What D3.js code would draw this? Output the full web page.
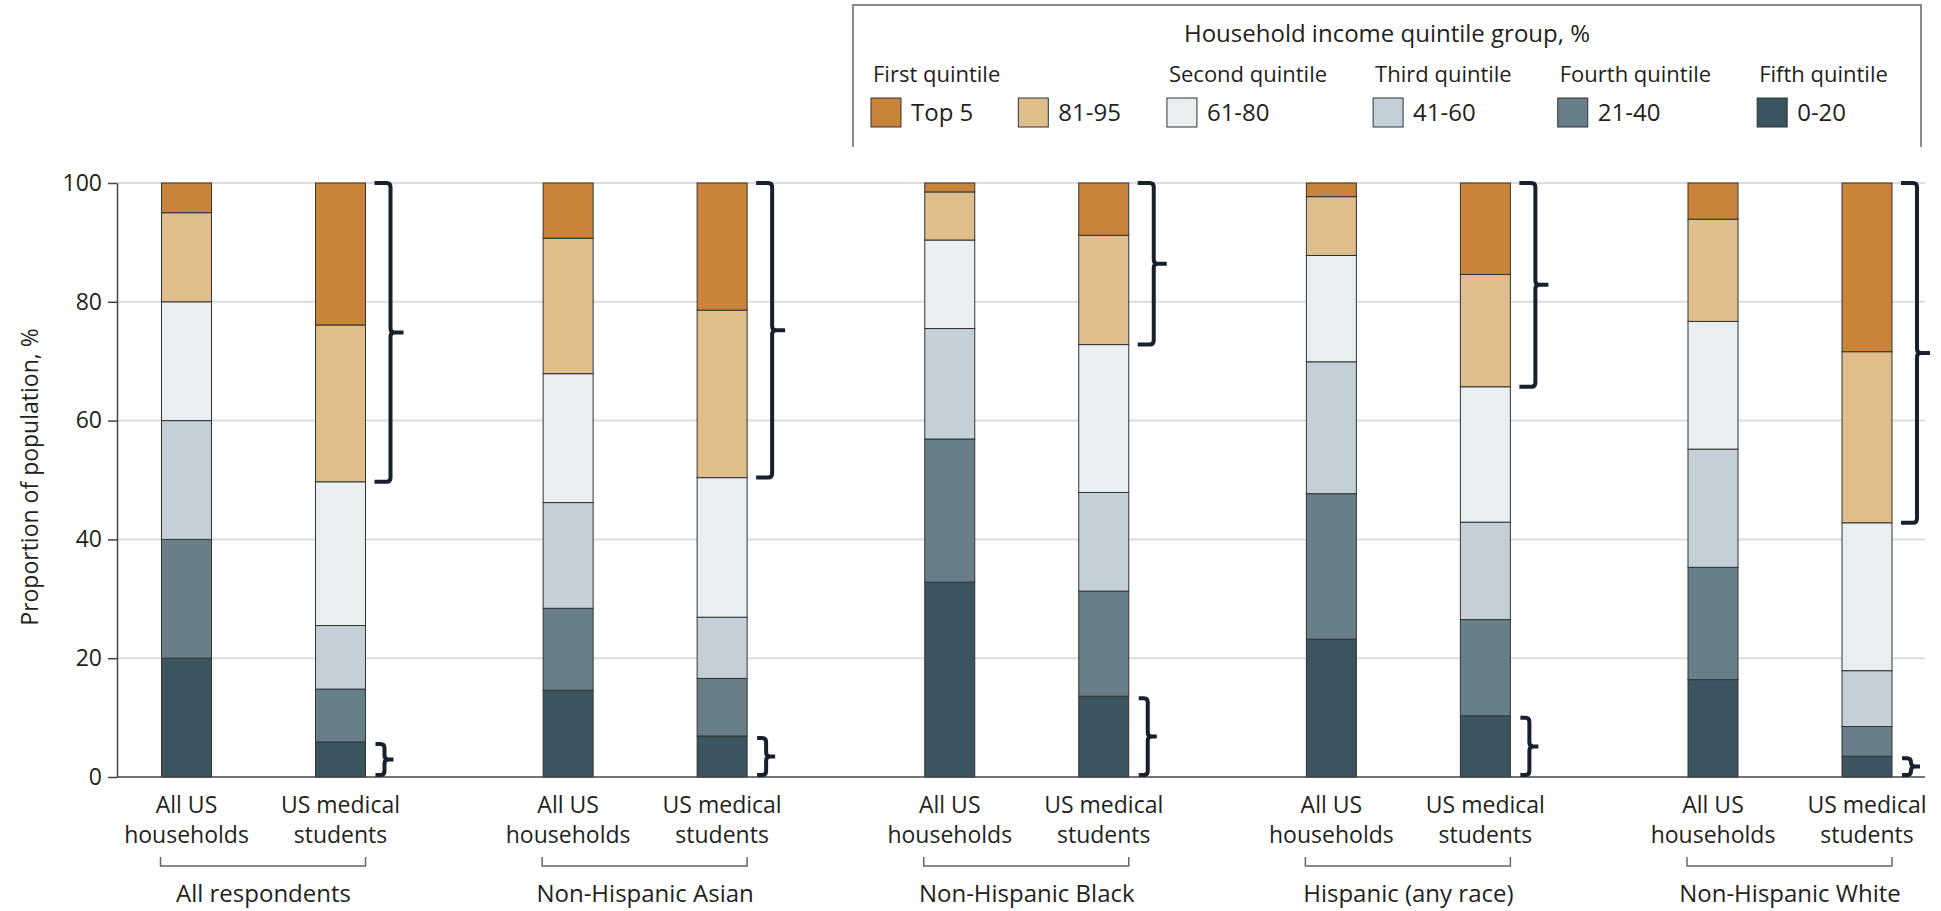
<!DOCTYPE html>
<html lang="en">
<head>
<meta charset="UTF-8" />
<title>Household income quintile group of US medical students</title>
<script src="https://cdn.jsdelivr.net/npm/d3@7"></script>
<style>
  body { margin: 0; background: #fff; }
  text { font-family: "Open Sans", "Noto Sans", sans-serif; fill: #231f20; }
</style>
</head>
<body>
<svg id="vis" width="1941" height="911"></svg>
<script>
// groups and the two bars in each group
var groups = ["All respondents", "Non-Hispanic Asian", "Non-Hispanic Black", "Hispanic (any race)", "Non-Hispanic White"];
var populations = ["All US households", "US medical students"];
var populationLines = [["All US", "households"], ["US medical", "students"]];

// quintile groups, bottom of the stack first
var quintiles = ["0-20", "21-40", "41-60", "61-80", "81-95", "Top 5"];
var quintileColors = ["#3a5560", "#687f8a", "#c3d0d8", "#e9eef1", "#dfbe8c", "#c8843a"];

// % per bar, in order: group 1 households, group 1 students, group 2 households ...
var q0_20  = [20, 5.9, 14.6, 6.9, 32.8, 13.6, 23.2, 10.3, 16.4, 3.5];
var q21_40 = [20, 8.9, 13.8, 9.7, 24.1, 17.7, 24.5, 16.2, 18.9, 5.0];
var q41_60 = [20, 10.7, 17.8, 10.3, 18.6, 16.6, 22.2, 16.4, 19.9, 9.4];
var q61_80 = [20, 24.2, 21.7, 23.5, 14.9, 24.9, 17.9, 22.8, 21.5, 24.9];
var q81_95 = [15, 26.4, 22.8, 28.2, 8.1, 18.4, 9.9, 18.9, 17.2, 28.8];
var qTop5  = [5, 23.9, 9.3, 21.4, 1.5, 8.8, 2.3, 15.4, 6.1, 28.4];

var yTicks = [0, 20, 40, 60, 80, 100];

// legend
var legendTitle = "Household income quintile group, %";
var legendHeaders = ["First quintile", "Second quintile", "Third quintile", "Fourth quintile", "Fifth quintile"];
var legendItems = ["Top 5", "81-95", "61-80", "41-60", "21-40", "0-20"];
var legendSection = [0, 0, 1, 2, 3, 4];

// build table rows
var rows = [];
groups.forEach(function (g, gi) {
  populations.forEach(function (p, pi) {
    var i = gi * 2 + pi;
    rows.push({
      group: g, pop: p,
      "0-20": q0_20[i], "21-40": q21_40[i], "41-60": q41_60[i],
      "61-80": q61_80[i], "81-95": q81_95[i], "Top 5": qTop5[i]
    });
  });
});

var svg = d3.select("#vis");

var y = d3.scaleLinear().domain([0, 100]).range([777, 183]);
var xGroup = d3.scalePoint().domain(groups).range([263.5, 1790]);
var xPop = d3.scalePoint().domain(populations).range([-77, 77]);
var barW = 50;
var color = d3.scaleOrdinal().domain(quintiles).range(quintileColors);
var axisX = 117, plotRight = 1925;

function barLeft(d) { return xGroup(d.group) + xPop(d.pop) - barW / 2; }

// gridlines
svg.append("g").selectAll("line").data(yTicks.filter(function (t) { return t > 0; }))
  .join("line")
  .attr("x1", axisX).attr("x2", plotRight)
  .attr("y1", function (d) { return y(d); }).attr("y2", function (d) { return y(d); })
  .attr("stroke", "#dcdcdc").attr("stroke-width", 2);

// y axis
var gy = svg.append("g").attr("transform", "translate(" + axisX + ",0)")
  .call(d3.axisLeft(y).tickValues(yTicks).tickSize(9).tickSizeOuter(0).tickPadding(6));
gy.select(".domain").attr("stroke", "#444").attr("stroke-width", 1.5);
gy.selectAll(".tick line").attr("stroke", "#444").attr("stroke-width", 1.5);
gy.selectAll(".tick text").style("font-size", "23px").style("font-family", "'Open Sans'").attr("fill", "#231f20");

svg.append("text")
  .attr("transform", "translate(38,477) rotate(-90)")
  .attr("text-anchor", "middle")
  .style("font-size", "23px")
  .text("Proportion of population, %");

// stacked bars
var stacked = d3.stack().keys(quintiles)(rows);
var gBars = svg.append("g");
stacked.forEach(function (layer) {
  gBars.append("g").selectAll("rect").data(layer).join("rect")
    .attr("x", function (d) { return barLeft(d.data); })
    .attr("width", barW)
    .attr("y", function (d) { return y(d[1]); })
    .attr("height", function (d) { return y(d[0]) - y(d[1]); })
    .attr("fill", color(layer.key))
    .attr("stroke", "#333").attr("stroke-width", 1);
});

// x axis baseline
svg.append("line").attr("x1", axisX).attr("x2", plotRight)
  .attr("y1", y(0)).attr("y2", y(0))
  .attr("stroke", "#444").attr("stroke-width", 1.5);

// braces next to the medical student bars
function bracePath(x0, yTop, yBot, hook, tip) {
  var xv = x0 + hook, ym = (yTop + yBot) / 2, r = 4;
  return "M" + x0 + "," + yTop + "H" + (xv - r) + "Q" + xv + "," + yTop + " " + xv + "," + (yTop + r) +
    "V" + (ym - r) + "Q" + xv + "," + ym + " " + (xv + r) + "," + ym + "H" + (xv + tip) +
    "M" + (xv + r) + "," + ym + "Q" + xv + "," + ym + " " + xv + "," + (ym + r) +
    "V" + (yBot - r) + "Q" + xv + "," + yBot + " " + (xv - r) + "," + yBot + "H" + x0;
}
var students = rows.filter(function (d) { return d.pop === populations[1]; });
var gBrace = svg.append("g").attr("fill", "none").attr("stroke", "#16202e").attr("stroke-width", 4);
gBrace.selectAll("path.top").data(students).join("path").attr("class", "top")
  .attr("d", function (d) {
    var lo = d["0-20"] + d["21-40"] + d["41-60"] + d["61-80"];
    return bracePath(barLeft(d) + barW + 9, y(100), y(lo), 16, 13);
  });
gBrace.selectAll("path.bottom").data(students).join("path").attr("class", "bottom")
  .attr("d", function (d) {
    return bracePath(barLeft(d) + barW + 10, y(d["0-20"]) + 2, y(0) - 2, 9, 9);
  });

// bar labels
var gLab = svg.append("g").attr("text-anchor", "middle").style("font-size", "23px");
rows.forEach(function (d) {
  var cx = xGroup(d.group) + xPop(d.pop);
  var lines = populationLines[populations.indexOf(d.pop)];
  gLab.append("text").attr("x", cx).attr("y", 813).text(lines[0]);
  gLab.append("text").attr("x", cx).attr("y", 843).text(lines[1]);
});

// group brackets and labels
groups.forEach(function (g) {
  var x1 = xGroup(g) + xPop(populations[0]) - barW / 2 - 1;
  var x2 = xGroup(g) + xPop(populations[1]) + barW / 2;
  svg.append("path")
    .attr("d", "M" + x1 + ",857V866H" + x2 + "V857")
    .attr("fill", "none").attr("stroke", "#666").attr("stroke-width", 1.5);
  svg.append("text").attr("x", xGroup(g)).attr("y", 902)
    .attr("text-anchor", "middle").style("font-size", "24px").text(g);
});

// legend
var lg = svg.append("g");
lg.append("path").attr("d", "M853,147V5H1921V147")
  .attr("fill", "none").attr("stroke", "#8a8a8a").attr("stroke-width", 2);
lg.append("text").attr("x", 1387).attr("y", 42).attr("text-anchor", "middle")
  .style("font-size", "24px").text(legendTitle);

var lx = 871, sectionGap = 46, itemGap = 45;
legendHeaders.forEach(function (h, si) {
  var head = lg.append("text").attr("x", lx + 2).attr("y", 82).style("font-size", "22px").text(h);
  var headW = head.node().getComputedTextLength() + 2;
  var ix = lx;
  legendItems.forEach(function (item, ii) {
    if (legendSection[ii] !== si) return;
    if (ix > lx) ix += itemGap;
    lg.append("rect").attr("x", ix).attr("y", 98).attr("width", 30).attr("height", 29)
      .attr("fill", color(item)).attr("stroke", "#333").attr("stroke-width", 1);
    var t = lg.append("text").attr("x", ix + 40).attr("y", 121).style("font-size", "24px").text(item);
    ix += 40 + t.node().getComputedTextLength();
  });
  lx += Math.max(headW, ix - lx) + sectionGap;
});
</script>
</body>
</html>
